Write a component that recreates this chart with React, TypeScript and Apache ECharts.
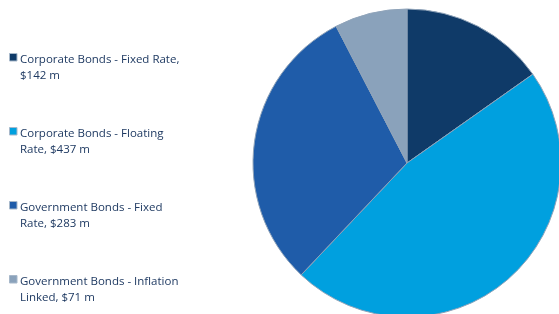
import React, { useEffect, useRef } from "react";
import * as echarts from "echarts";

const categories = [
  "Corporate Bonds - Fixed Rate",
  "Corporate Bonds - Floating Rate",
  "Government Bonds - Fixed Rate",
  "Government Bonds - Inflation Linked",
];
const values = [142, 437, 283, 71];
const legendLines = [
  ["Corporate Bonds - Fixed Rate,", "$142 m"],
  ["Corporate Bonds - Floating", "Rate, $437 m"],
  ["Government Bonds - Fixed", "Rate, $283 m"],
  ["Government Bonds - Inflation", "Linked, $71 m"],
];
const colors = ["#0f3a68", "#00a0df", "#1f5ca9", "#8aa2bb"];

export default function App() {
  const ref = useRef<HTMLDivElement>(null);
  useEffect(() => {
    if (!ref.current) return;
    const chart = echarts.init(ref.current, undefined, { renderer: "svg" });
    const font = "'Open Sans', sans-serif";
    const graphics: any[] = [];
    legendLines.forEach((lines, i) => {
      const top = 53 + i * 74;
      graphics.push({
        type: "rect",
        shape: { x: 9.5, y: top + 0.5, width: 7.5, height: 7.5 },
        style: { fill: colors[i], stroke: "#a7b8ca", lineWidth: 1 },
      });
      lines.forEach((ln, j) => {
        graphics.push({
          type: "text",
          x: 20,
          y: 58 + i * 74 + j * 16,
          style: {
            text: ln,
            fill: "#1f3a62",
            font: `11.5px ${font}`,
            verticalAlign: "middle",
          },
        });
      });
    });
    chart.setOption({
      animation: false,
      graphic: graphics,
      series: [
        {
          type: "pie",
          center: [407, 163],
          radius: 154,
          startAngle: 90,
          clockwise: true,
          label: { show: false },
          labelLine: { show: false },
          itemStyle: { borderColor: "#8fa3b9", borderWidth: 1 },
          emphasis: { disabled: true },
          data: categories.map((name, i) => ({
            name,
            value: values[i],
            itemStyle: { color: colors[i] },
          })),
        },
      ],
    });
    return () => chart.dispose();
  }, []);
  return (
    <div
      ref={ref}
      style={{ position: "fixed", left: 0, top: 0, width: 559, height: 314 }}
    />
  );
}
